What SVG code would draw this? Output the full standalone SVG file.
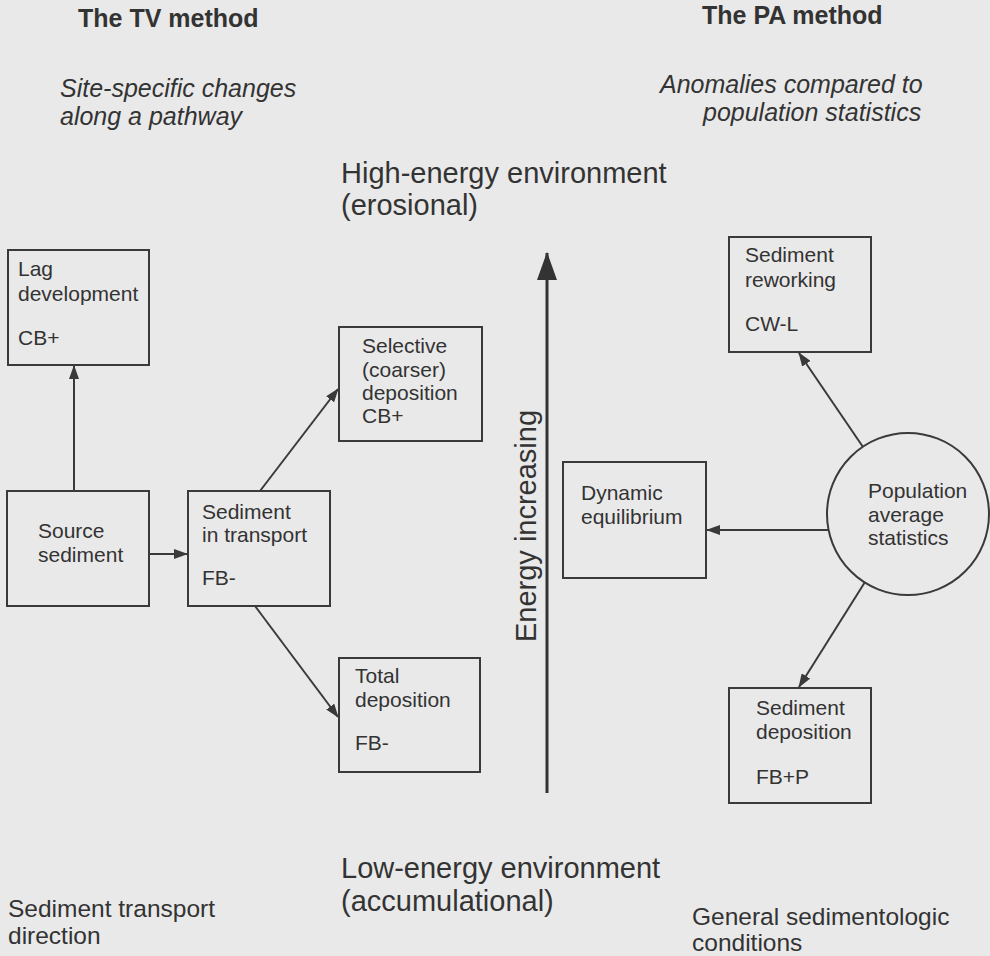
<svg xmlns="http://www.w3.org/2000/svg" width="990" height="956" viewBox="0 0 990 956">
<style>
text{font-family:"Liberation Sans",Arial,sans-serif;fill:#333;}
.b{font-size:21px;}
.h{font-size:25px;font-weight:bold;}
.it{font-size:25px;font-style:italic;}
.big{font-size:29px;}
.lbl{font-size:24.5px;}
.box{fill:none;stroke:#3a3a3a;stroke-width:2;}
.con{stroke:#3a3a3a;stroke-width:2;fill:none;marker-end:url(#ah);}
</style>
<defs>
<marker id="ah" viewBox="0 0 14 10" refX="13" refY="5" markerWidth="14" markerHeight="10" markerUnits="userSpaceOnUse" orient="auto">
<path d="M0,0 L14,5 L0,10 Z" fill="#3a3a3a"/>
</marker>
<marker id="ahBig" viewBox="0 0 28 20" refX="27" refY="10" markerWidth="28" markerHeight="20" markerUnits="userSpaceOnUse" orient="auto">
<path d="M0,0 L28,10 L0,20 Z" fill="#333"/>
</marker>
</defs>
<rect width="990" height="956" fill="#e9e9e9"/>

<g id="titles">
<text class="h" x="78" y="27">The TV method</text>
<text class="h" x="702" y="24" font-size="24">The PA method</text>
<text class="it" x="60" y="97">Site-specific changes</text>
<text class="it" x="60" y="125">along a pathway</text>
<text class="it" x="660" y="93">Anomalies compared to</text>
<text class="it" x="703" y="121">population statistics</text>
<text class="big" x="341" y="183">High-energy environment</text>
<text class="big" x="341" y="215">(erosional)</text>
<text class="big" x="341" y="878">Low-energy environment</text>
<text class="big" x="341" y="911">(accumulational)</text>
<text class="lbl" x="8" y="917">Sediment transport</text>
<text class="lbl" x="8" y="944">direction</text>
<text class="lbl" x="692" y="925">General sedimentologic</text>
<text class="lbl" x="692" y="951">conditions</text>
</g>

<g id="energy-axis">
<line x1="547" y1="793" x2="547" y2="253" stroke="#333" stroke-width="3" marker-end="url(#ahBig)"/>
<text class="big" x="0" y="0" text-anchor="middle" transform="translate(536,526) rotate(-90)">Energy increasing</text>
</g>

<g id="connectors">
<line class="con" x1="74" y1="491" x2="74" y2="366"/>
<line class="con" x1="149" y1="554" x2="187" y2="554"/>
<line class="con" x1="260" y1="491" x2="338" y2="389"/>
<line class="con" x1="255" y1="606" x2="338" y2="717"/>
<line class="con" x1="863" y1="447" x2="799" y2="353"/>
<line class="con" x1="828" y1="530" x2="707" y2="530"/>
<line class="con" x1="865" y1="582" x2="799" y2="687"/>
</g>

<g id="lag">
<rect class="box" x="8" y="250" width="141" height="115"/>
<text class="b" x="18" y="276">Lag</text>
<text class="b" x="18" y="301">development</text>
<text class="b" x="18" y="345">CB+</text>
</g>

<g id="source">
<rect class="box" x="7" y="491" width="142" height="115"/>
<text class="b" x="38" y="538">Source</text>
<text class="b" x="38" y="562">sediment</text>
</g>

<g id="transport">
<rect class="box" x="188" y="491" width="142" height="115"/>
<text class="b" x="202" y="519">Sediment</text>
<text class="b" x="202" y="542">in transport</text>
<text class="b" x="202" y="585">FB-</text>
</g>

<g id="selective">
<rect class="box" x="339" y="327" width="143" height="114"/>
<text class="b" x="362" y="353">Selective</text>
<text class="b" x="362" y="377">(coarser)</text>
<text class="b" x="362" y="400">deposition</text>
<text class="b" x="362" y="423">CB+</text>
</g>

<g id="total">
<rect class="box" x="339" y="658" width="141" height="114"/>
<text class="b" x="355" y="683">Total</text>
<text class="b" x="355" y="707">deposition</text>
<text class="b" x="355" y="750">FB-</text>
</g>

<g id="reworking">
<rect class="box" x="729" y="237" width="142" height="115"/>
<text class="b" x="745" y="262">Sediment</text>
<text class="b" x="745" y="287">reworking</text>
<text class="b" x="745" y="331">CW-L</text>
</g>

<g id="dynamic">
<rect class="box" x="563" y="462" width="143" height="116"/>
<text class="b" x="581" y="500">Dynamic</text>
<text class="b" x="581" y="524">equilibrium</text>
</g>

<g id="population">
<circle class="box" cx="908" cy="514" r="81"/>
<text class="b" x="868" y="498">Population</text>
<text class="b" x="868" y="522">average</text>
<text class="b" x="868" y="545">statistics</text>
</g>

<g id="deposition">
<rect class="box" x="729" y="688" width="142" height="115"/>
<text class="b" x="756" y="715">Sediment</text>
<text class="b" x="756" y="739">deposition</text>
<text class="b" x="756" y="784">FB+P</text>
</g>
</svg>
